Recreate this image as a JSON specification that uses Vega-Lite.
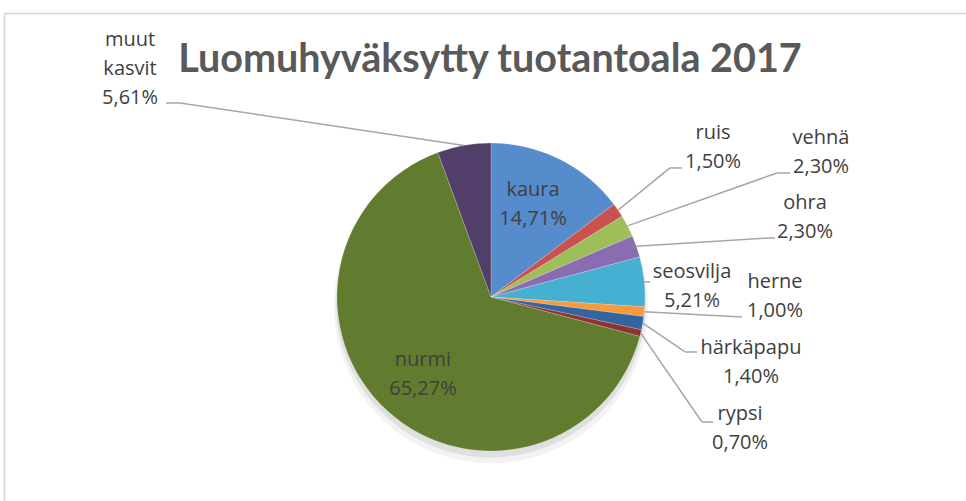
{
  "$schema": "https://vega.github.io/schema/vega-lite/v6.json",
  "width": 962,
  "height": 488,
  "autosize": {"type": "none"},
  "padding": {"left": 4, "top": 13, "right": 0, "bottom": 0},
  "background": "white",
  "title": {
    "text": "Luomuhyväksytty tuotantoala 2017",
    "anchor": "middle",
    "orient": "top",
    "offset": -86,
    "baseline": "middle",
    "dx": 5,
    "font": "Lato",
    "fontSize": 39.5,
    "fontWeight": "bold",
    "color": "#595959"
  },
  "config": {
    "view": {"stroke": null},
    "font": "Open Sans",
    "axis": {"ticks": false, "labels": false, "grid": false, "title": null, "domainColor": "#D4D4D4", "domainWidth": 1.5}
  },
  "data": {
    "values": [
      {"name": "kaura", "value": 14.71},
      {"name": "ruis", "value": 1.5},
      {"name": "vehnä", "value": 2.3},
      {"name": "ohra", "value": 2.3},
      {"name": "seosvilja", "value": 5.21},
      {"name": "herne", "value": 1.0},
      {"name": "härkäpapu", "value": 1.4},
      {"name": "rypsi", "value": 0.7},
      {"name": "nurmi", "value": 65.27},
      {"name": "muut kasvit", "value": 5.61}
    ]
  },
  "transform": [
    {"window": [{"op": "row_number", "as": "idx"}]},
    {"window": [{"op": "sum", "field": "value", "as": "cum"}], "sort": [{"field": "idx"}], "frame": [null, 0]},
    {"calculate": "(datum.cum - datum.value / 2) / 100 * 2 * PI", "as": "mid"},
    {"calculate": "sin(datum.mid)", "as": "sx"},
    {"calculate": "cos(datum.mid)", "as": "sy"},
    {"calculate": "replace(datum.name, ' ', '\\n') + '\\n' + replace(format(datum.value, '.2f'), '.', ',') + '%'", "as": "label"},
    {"calculate": "{'kaura': [0.273, 0.695], 'nurmi': [-0.442, -0.409], 'ruis': [1.442, 1.065], 'vehnä': [2.143, 1.032], 'ohra': [2.039, 0.610], 'seosvilja': [1.305, 0.162], 'herne': [1.844, 0.097], 'härkäpapu': [1.688, -0.331], 'rypsi': [1.617, -0.760], 'muut kasvit': [-2.344, 1.669]}[datum.name]", "as": "lpos"},
    {"calculate": "{'ruis': [1.162, 0.838, 1.240], 'vehnä': [1.857, 0.805, 1.942], 'ohra': [1.799, 0.383, 1.844], 'seosvilja': [1.033, 0.097, 1.033], 'herne': [1.630, -0.130, 1.630], 'härkäpapu': [1.260, -0.357, 1.338], 'rypsi': [1.370, -0.812, 1.442], 'muut kasvit': [-2.020, 1.260, -2.110]}[datum.name]", "as": "leader"},
    {"calculate": "datum.lpos[0]", "as": "lx"},
    {"calculate": "datum.lpos[1]", "as": "ly"},
    {"calculate": "datum.leader ? datum.leader[0] : null", "as": "ex"},
    {"calculate": "datum.leader ? datum.leader[1] : null", "as": "ey"},
    {"calculate": "datum.leader ? datum.leader[2] : null", "as": "hx"}
  ],
  "layer": [
    {
      "mark": {"type": "arc", "outerRadius": 157, "color": "#000000", "opacity": 0.05},
      "encoding": {
        "x": {"datum": 0, "type": "quantitative", "scale": {"domain": [-3.16234, 3.08442], "nice": false, "zero": false}, "axis": {"orient": "top"}},
        "y": {"datum": -0.06, "type": "quantitative", "scale": {"domain": [-1.32468, 1.84416], "nice": false, "zero": false}, "axis": {"orient": "left"}},
        "theta": {"field": "value", "type": "quantitative", "stack": true},
        "order": {"field": "idx", "type": "quantitative"}
      }
    },
    {
      "mark": {"type": "arc", "outerRadius": 155, "color": "#000000", "opacity": 0.08},
      "encoding": {
        "x": {"datum": 0, "type": "quantitative", "scale": {"domain": [-3.16234, 3.08442], "nice": false, "zero": false}, "axis": {"orient": "top"}},
        "y": {"datum": -0.035, "type": "quantitative", "scale": {"domain": [-1.32468, 1.84416], "nice": false, "zero": false}, "axis": {"orient": "left"}},
        "theta": {"field": "value", "type": "quantitative", "stack": true},
        "order": {"field": "idx", "type": "quantitative"}
      }
    },
    {
      "mark": {"type": "arc", "outerRadius": 154, "stroke": "#ffffff", "strokeOpacity": 0.25, "strokeWidth": 0.8},
      "encoding": {
        "x": {"datum": 0, "type": "quantitative", "scale": {"domain": [-3.16234, 3.08442], "nice": false, "zero": false}, "axis": {"orient": "top"}},
        "y": {"datum": 0, "type": "quantitative", "scale": {"domain": [-1.32468, 1.84416], "nice": false, "zero": false}, "axis": {"orient": "left"}},
        "theta": {"field": "value", "type": "quantitative", "stack": true},
        "order": {"field": "idx", "type": "quantitative"},
        "color": {
          "field": "name",
          "type": "nominal",
          "legend": null,
          "scale": {
            "domain": ["kaura", "ruis", "vehnä", "ohra", "seosvilja", "herne", "härkäpapu", "rypsi", "nurmi", "muut kasvit"],
            "range": ["#568BCC", "#C9524E", "#9DBE58", "#8A6CB0", "#45B0D2", "#F79A3E", "#3464A0", "#8E3331", "#617B2F", "#523F69"]
          }
        }
      }
    },
    {
      "transform": [{"filter": "datum.ex != null"}],
      "mark": {"type": "rule", "color": "#A6A6A6", "strokeWidth": 1.5},
      "encoding": {
        "x": {"field": "sx", "type": "quantitative", "scale": {"domain": [-3.16234, 3.08442], "nice": false, "zero": false}, "axis": {"orient": "top"}},
        "y": {"field": "sy", "type": "quantitative", "scale": {"domain": [-1.32468, 1.84416], "nice": false, "zero": false}, "axis": {"orient": "left"}},
        "x2": {"field": "ex"},
        "y2": {"field": "ey"}
      }
    },
    {
      "transform": [{"filter": "datum.hx != null"}],
      "mark": {"type": "rule", "color": "#A6A6A6", "strokeWidth": 1.5},
      "encoding": {
        "x": {"field": "ex", "type": "quantitative", "scale": {"domain": [-3.16234, 3.08442], "nice": false, "zero": false}, "axis": {"orient": "top"}},
        "y": {"field": "ey", "type": "quantitative", "scale": {"domain": [-1.32468, 1.84416], "nice": false, "zero": false}, "axis": {"orient": "left"}},
        "x2": {"field": "hx"}
      }
    },
    {
      "mark": {"type": "text", "align": "center", "baseline": "middle", "lineBreak": "\n", "fontSize": 20, "lineHeight": 29, "color": "#404040", "font": "Open Sans"},
      "encoding": {
        "x": {"field": "lx", "type": "quantitative", "scale": {"domain": [-3.16234, 3.08442], "nice": false, "zero": false}, "axis": {"orient": "top"}},
        "y": {"field": "ly", "type": "quantitative", "scale": {"domain": [-1.32468, 1.84416], "nice": false, "zero": false}, "axis": {"orient": "left"}},
        "text": {"field": "label"}
      }
    }
  ]
}
